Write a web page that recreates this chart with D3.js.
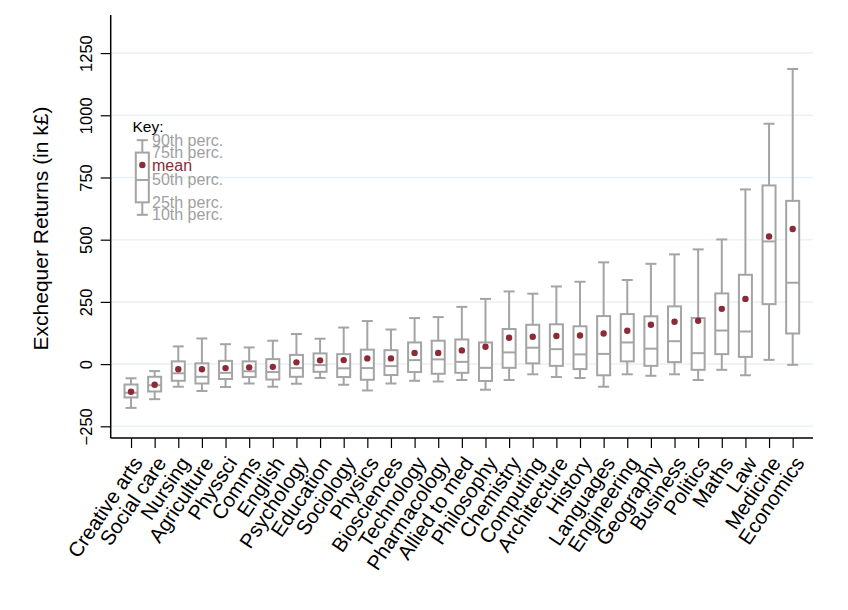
<!DOCTYPE html>
<html lang="en">

<head>
	<meta charset="UTF-8">
	<title>Exchequer returns by subject</title>
	<script src="https://d3js.org/d3.v7.min.js"></script>
	<style>
		body {
			margin: 0;
			background: #fff;
		}

		svg text {
			font-family: "Liberation Sans", Arial, sans-serif;
		}
	</style>
</head>

<body>

	<div id="chart"></div>

</body>

<script>

	// subjects, ordered by mean
	var categories = ["Creative arts", "Social care", "Nursing", "Agriculture", "Physsci", "Comms", "English",
		"Psychology", "Education", "Sociology", "Physics", "Biosciences", "Technology", "Pharmacology",
		"Allied to med", "Philosophy", "Chemistry", "Computing", "Architecture", "History", "Languages",
		"Engineering", "Geography", "Business", "Politics", "Maths", "Law", "Medicine", "Economics"];

	var p90 = [-57, -28, 71, 103, 80, 67, 94, 121, 102, 147, 173, 139, 185, 189, 230, 262, 292, 283, 312, 331,
		409, 338, 403, 441, 461, 501, 702, 966, 1186];
	var p75 = [-82, -51, 11, 3, 13, 11, 20, 37, 43, 40, 58, 56, 87, 94, 99, 87, 141, 158, 160, 152,
		193, 201, 192, 232, 185, 284, 359, 718, 656];
	var p50 = [-115, -85, -37, -51, -35, -29, -32, -16, -4, -17, -16, -8, 16, 19, 9, -15, 47, 66, 60, 39,
		41, 87, 62, 92, 44, 135, 131, 493, 327];
	var p25 = [-134, -110, -67, -78, -60, -52, -62, -51, -31, -52, -63, -44, -32, -39, -35, -68, -15, 3, -7, -20,
		-45, 11, -7, 8, -23, 40, 29, 241, 123];
	var p10 = [-176, -141, -91, -108, -92, -78, -91, -79, -56, -83, -106, -78, -67, -70, -64, -103, -64, -41, -52, -56,
		-91, -41, -47, -41, -64, -23, -45, 17, -3];
	var means = [-111, -83, -21, -21, -16, -13, -11, 7, 15, 16, 23, 23, 45, 45, 55, 70, 106, 110, 113, 115,
		123, 134, 158, 170, 174, 222, 262, 513, 543];

	var yTicks = [-250, 0, 250, 500, 750, 1000, 1250];

	// the little "Key:" box drawn in data units
	var keyLabels = ["90th perc.", "75th perc.", "mean", "50th perc.", "25th perc.", "10th perc."];
	var keyValues = [900, 850, 800, 740, 650, 600];

	var W = 848, H = 610;
	var plotL = 110.7, plotR = 813, plotT = 15, plotB = 438;
	var boxColor = "#a4a4a4";
	var meanColor = "#8c2a37";
	var boxW = 13, capW = 11;

	var data = categories.map(function (c, i) {
		return { name: c, p10: p10[i], p25: p25[i], p50: p50[i], p75: p75[i], p90: p90[i], mean: means[i] };
	});

	var x = d3.scalePoint()
		.domain(categories)
		.range([plotL, plotR])
		.padding(0.86);

	var y = d3.scaleLinear()
		.domain([-297, 1403])
		.range([plotB, plotT]);

	var svg = d3.select("#chart").append("svg")
		.attr("width", W)
		.attr("height", H);

	// grid
	svg.append("g").selectAll("line")
		.data(yTicks)
		.enter().append("line")
		.attr("x1", plotL).attr("x2", plotR)
		.attr("y1", function (d) { return y(d); })
		.attr("y2", function (d) { return y(d); })
		.attr("stroke", "#e8f1f3")
		.attr("stroke-width", 1.5);

	// y axis
	var yAxis = svg.append("g")
		.attr("transform", "translate(" + plotL + ",0)")
		.call(d3.axisLeft(y).tickValues(yTicks).tickSize(10).tickSizeOuter(0).tickFormat(d3.format("d")));
	yAxis.select(".domain").attr("d", "M0," + plotT + "V" + plotB).attr("stroke", "#000").attr("stroke-width", 1.5);
	yAxis.selectAll(".tick line").attr("stroke", "#000").attr("stroke-width", 1.2);
	yAxis.selectAll(".tick text")
		.attr("transform", "rotate(-90)")
		.attr("x", 0)
		.attr("y", -19)
		.attr("dy", 0)
		.attr("text-anchor", "middle")
		.attr("font-size", 16.5)
		.attr("font-family", "Liberation Sans, Arial, sans-serif")
		.attr("fill", "#000");

	// x axis
	var xAxis = svg.append("g")
		.attr("transform", "translate(0," + plotB + ")")
		.call(d3.axisBottom(x).tickSize(10).tickSizeOuter(0));
	xAxis.select(".domain").attr("d", "M" + plotL + ",0H" + plotR).attr("stroke", "#000").attr("stroke-width", 1.5);
	xAxis.selectAll(".tick line").attr("stroke", "#000").attr("stroke-width", 1.2);
	xAxis.selectAll(".tick text")
		.attr("x", 0).attr("y", 0).attr("dy", "0.35em")
		.attr("transform", "translate(6,21) rotate(-56)")
		.attr("text-anchor", "end")
		.attr("font-size", 20.5)
		.attr("font-family", "Liberation Sans, Arial, sans-serif")
		.attr("fill", "#000");

	// y title
	svg.append("text")
		.attr("transform", "translate(48," + ((plotT + plotB) / 2 + 2) + ") rotate(-90)")
		.attr("text-anchor", "middle")
		.attr("font-size", 21)
		.text("Exchequer Returns (in k\u00a3)");

	// boxes
	function drawBox(g, cx, d) {
		g.append("line")
			.attr("x1", cx).attr("x2", cx)
			.attr("y1", y(d.p90)).attr("y2", y(d.p75))
			.attr("stroke", boxColor).attr("stroke-width", 2);
		g.append("line")
			.attr("x1", cx).attr("x2", cx)
			.attr("y1", y(d.p25)).attr("y2", y(d.p10))
			.attr("stroke", boxColor).attr("stroke-width", 2);
		[d.p90, d.p10].forEach(function (v) {
			g.append("line")
				.attr("x1", cx - capW / 2).attr("x2", cx + capW / 2)
				.attr("y1", y(v)).attr("y2", y(v))
				.attr("stroke", boxColor).attr("stroke-width", 2);
		});
		g.append("rect")
			.attr("x", cx - boxW / 2)
			.attr("y", y(d.p75))
			.attr("width", boxW)
			.attr("height", y(d.p25) - y(d.p75))
			.attr("fill", "#fff")
			.attr("stroke", boxColor).attr("stroke-width", 2);
		g.append("line")
			.attr("x1", cx - boxW / 2).attr("x2", cx + boxW / 2)
			.attr("y1", y(d.p50)).attr("y2", y(d.p50))
			.attr("stroke", boxColor).attr("stroke-width", 2);
		g.append("circle")
			.attr("cx", cx).attr("cy", y(d.mean))
			.attr("r", 3.2)
			.attr("fill", meanColor);
	}

	var boxes = svg.append("g");
	data.forEach(function (d) {
		drawBox(boxes.append("g"), x(d.name), d);
	});

	// key
	var keyX = 142.3;
	var keyBox = { p90: keyValues[0], p75: keyValues[1], mean: keyValues[2], p50: keyValues[3], p25: keyValues[4], p10: keyValues[5] };
	var key = svg.append("g");
	drawBox(key, keyX, keyBox);
	key.append("text")
		.attr("x", 132.5)
		.attr("y", y(keyValues[0]) - 8)
		.attr("font-size", 15.5)
		.attr("fill", "#000")
		.text("Key:");
	key.selectAll("text.lab")
		.data(keyLabels)
		.enter().append("text")
		.attr("class", "lab")
		.attr("x", 152)
		.attr("y", function (d, i) { return y(keyValues[i]) + 5.5; })
		.attr("font-size", 16)
		.attr("fill", function (d) { return d === "mean" ? meanColor : "#a0a0a0"; })
		.text(function (d) { return d; });

</script>

</html>
